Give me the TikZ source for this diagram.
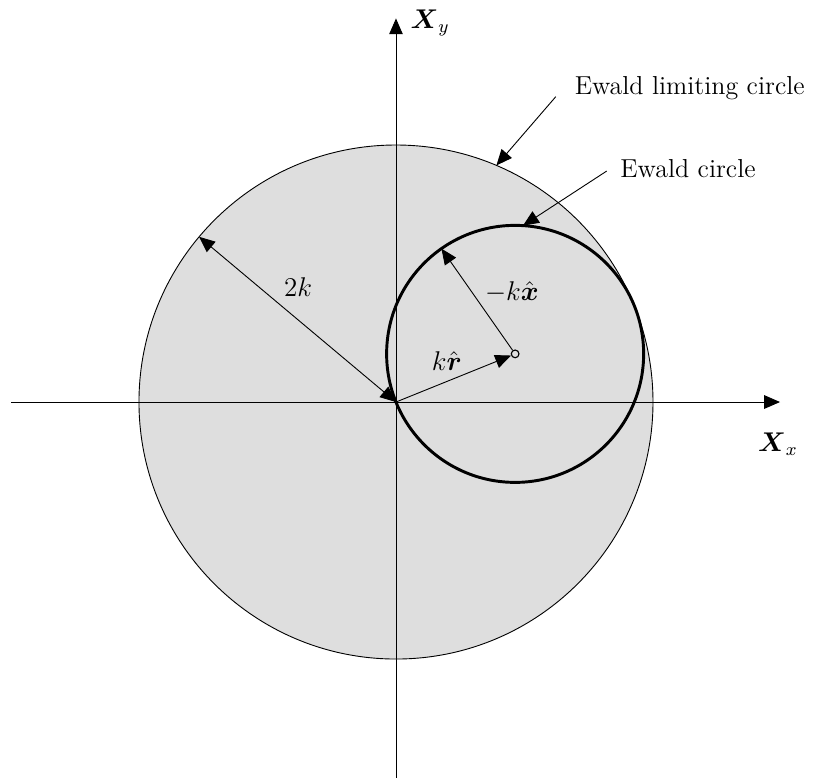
\documentclass[tikz,border=0pt]{standalone}
\usepackage{amsmath,amssymb}
\usepackage{tikz}
\usetikzlibrary{arrows.meta,calc}
\definecolor{limitgray}{RGB}{222,222,222}

\begin{document}
\begin{tikzpicture}[
  font=\fontsize{11.5}{14}\selectfont,
  >={Triangle[length=7pt,width=6pt]},
  axisline/.style={line width=0.4pt, ->},
  vecline/.style={line width=0.4pt, ->},
  ewaldline/.style={line width=1.3pt},
  lbl/.style={inner sep=1pt},
]
\useasboundingbox (-6.163,-5.915) rectangle (6.568,6.257);

% Ewald limiting circle (radius 2k)
\coordinate (O) at (0,0);
\filldraw[fill=limitgray, draw=black, line width=0.4pt] (O) circle (4);

% axes
\coordinate (xl) at (-5.99,0);
\coordinate (xr) at (5.977,0);
\coordinate (yb) at (0,-5.85);
\coordinate (yt) at (0,5.97);
\draw[axisline] (xl) -- (xr);
\draw[axisline] (yb) -- (yt);
\node[lbl] (Xx) at (5.945,-0.654) {$\boldsymbol{X}_x$};
\node[lbl] (Xy) at (0.53,5.9) {$\boldsymbol{X}_y$};

% Ewald circle (radius k), centre at k r-hat
\coordinate (C) at (22:2);
\draw[ewaldline] (C) circle (2);
\node[circle, draw, line width=0.5pt, inner sep=0pt, minimum size=0.12cm] (Cm) at (C) {};

% radius vectors
\coordinate (P2k) at (140:4);
\draw[line width=0.4pt, <->] (O) -- (P2k);
\node[lbl] (l2k) at (-1.525,1.79) {$2k$};

\draw[vecline] (O) -- (Cm);
\node[lbl] (lkr) at (0.79,0.64) {$k\hat{\boldsymbol{r}}$};

\coordinate (Pkx) at ($(C)+(125:2)$);
\draw[vecline] (Cm) -- (Pkx);
\node[lbl] (lkx) at (1.805,1.71) {$-k\hat{\boldsymbol{x}}$};

% callouts
\node[lbl, anchor=base west] (tlim) at (2.74,4.78) {Ewald limiting circle};
\coordinate (slim) at (2.487,4.752);
\coordinate (elim) at (67:4);
\draw[vecline] (slim) -- (elim);

\node[lbl, anchor=base west] (tew) at (3.45,3.50) {Ewald circle};
\coordinate (sew) at (3.28,3.595);
\coordinate (eew) at ($(C)+(86.5:2)$);
\draw[vecline] (sew) -- (eew);

\end{tikzpicture}
\end{document}
